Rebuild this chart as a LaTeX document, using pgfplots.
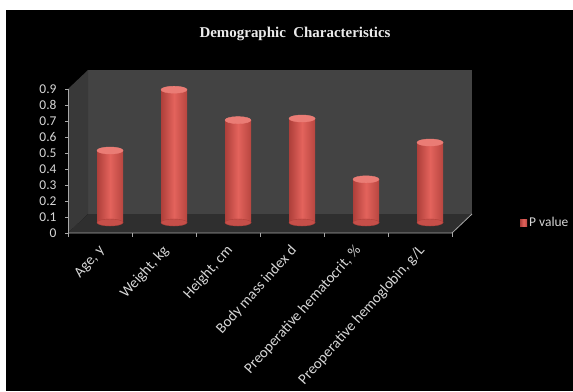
\documentclass[border=0pt]{standalone}
\usepackage{pgfplots}
\pgfplotsset{compat=1.18}
\usepackage{fontspec}
\setmainfont{Carlito}
\newfontfamily\titlefont{Liberation Serif}
\definecolor{wall}{HTML}{434343}
\definecolor{side}{HTML}{393939}
\definecolor{floorc}{HTML}{2F2F2F}
\definecolor{axisgray}{HTML}{A8A8A8}
\definecolor{lbl}{HTML}{D6D6D6}
\definecolor{barL}{HTML}{AE3F3A}
\definecolor{barM}{HTML}{E3635C}
\definecolor{barR}{HTML}{B84640}
\definecolor{barTop}{HTML}{EA7C75}
\pgfplotsset{cyl/.style={ybar, bar width=26bp, bar shift=0pt, draw=none, left color=barL, right color=barR, middle color=barM}}
\begin{document}
\begin{tikzpicture}[x=1bp,y=1bp]
% page background (white margin strip top/left as in the reference)
\fill[white] (0,0) rectangle (573,391);
\fill[black] (6,0) rectangle (573,381);
% title
\node[text=white!92!black, font=\titlefont\bfseries\fontsize{15}{17}\selectfont] at (295,357) {Demographic\ \ Characteristics};
% pseudo-3D walls
\fill[wall] (88,177) -- (472,177) -- (472,321) -- (88,321) -- cycle;
\fill[side] (88,177) -- (88,321) -- (68,302) -- (68,158) -- cycle;
\fill[floorc] (88,177) -- (472,177) -- (452,158) -- (68,158) -- cycle;
% axis lines and ticks (front plane)
\draw[axisgray, line width=0.8bp] (68,158) -- (452,158) -- (472,177);
\draw[axisgray, line width=0.6bp] (68,158) -- (68,302);
\foreach \k in {0,...,6} {\draw[axisgray, line width=0.6bp] ({68+64*\k},158) -- ({68+64*\k},154.5);}
\foreach \k in {0,...,9} {\draw[axisgray, line width=0.6bp] (68,{158+16*\k}) -- (64.5,{158+16*\k});}
\begin{axis}[
  at={(78bp,168.5bp)}, anchor=south west, scale only axis,
  width=384bp, height=144bp,
  xmin=-0.5, xmax=5.5, ymin=0, ymax=0.9,
  clip=false,
  axis line style={draw=none}, tick style={draw=none}, major tick length=0pt,
  ytick={0,0.1,0.2,0.3,0.4,0.5,0.6,0.7,0.8,0.9},
  yticklabels={0,0.1,0.2,0.3,0.4,0.5,0.6,0.7,0.8,0.9},
  yticklabel style={xshift=-18bp, yshift=-10.5bp, font=\fontsize{13.5}{15}\selectfont, text=lbl},
  xtick={0,1,2,3,4,5},
  xticklabels={{Age, y},{Weight, kg},{Height, cm},{Body mass index d},{Preoperative hematocrit, \%},{Preoperative hemoglobin, g/L}},
  xticklabel style={xshift=-7bp, yshift=-25bp, rotate=48, anchor=east, inner sep=1bp, font=\fontsize{15}{17}\selectfont, text=lbl},
  legend style={draw=none, fill=none, at={(1.151,0)}, anchor=west, inner sep=0pt,
    font=\fontsize{13.5}{15}\selectfont, text=lbl},
]
% cylinder bottoms
\addplot[color=barL, only marks, mark=*, mark size=13bp, mark options={yscale=0.27, draw=none, fill=barL!55!barM}, forget plot]
  coordinates {(0,0) (1,0) (2,0) (3,0) (4,0) (5,0)};
% cylinder bodies (one per category so each gets its own shading)
\addplot[cyl, legend image code/.code={\fill[barM] (0bp,-3.5bp) rectangle (7bp,3.5bp);}]
  coordinates {(0,0.45)};
\addlegendentry{P value}
\addplot[cyl, forget plot] coordinates {(1,0.83)};
\addplot[cyl, forget plot] coordinates {(2,0.64)};
\addplot[cyl, forget plot] coordinates {(3,0.65)};
\addplot[cyl, forget plot] coordinates {(4,0.27)};
\addplot[cyl, forget plot] coordinates {(5,0.50)};
% cylinder tops
\addplot[color=barTop, only marks, mark=*, mark size=13bp, mark options={yscale=0.27, draw=none, fill=barTop}, forget plot]
  coordinates {(0,0.45) (1,0.83) (2,0.64) (3,0.65) (4,0.27) (5,0.50)};
\end{axis}
\pgfresetboundingbox
\path (0,0) rectangle (573,391);
\end{tikzpicture}
\end{document}
